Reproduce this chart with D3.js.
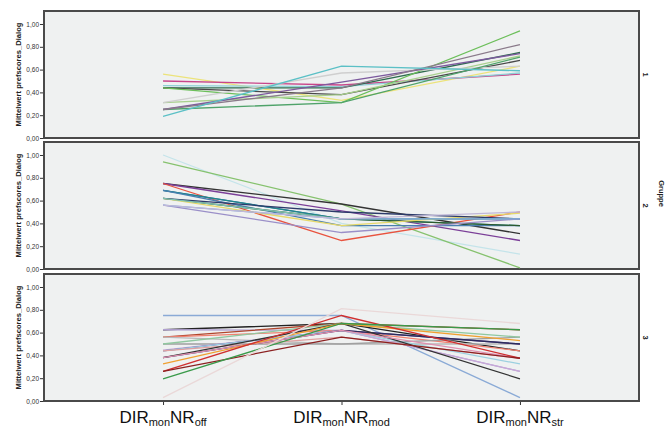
<!DOCTYPE html>
<html lang="de">
<head>
    <meta charset="UTF-8">
    <title>Mittelwert prefscores_Dialog nach Gruppe</title>
    <script src="https://d3js.org/d3.v7.min.js"></script>
    <style>
        body { margin: 0; background: #fff; }
        svg { font-family: Arial, "Liberation Sans", sans-serif; }
        .tick text { font-size: 6.5px; fill: #333; }
        .tick line { stroke: #333; }
        .panel { fill: #eff1f1; stroke: #4a4a4a; stroke-width: 2; }
        .series { fill: none; stroke-width: 1.3; }
    </style>
</head>
<body>
<svg id="chart" width="666" height="427"></svg>
<script>
    // categories on the x axis (subscripts of DIR_mon NR_x)
    const categories = ["off", "mod", "str"];
    const groups = ["1", "2", "3"];
    const yTicks = [0, 0.2, 0.4, 0.6, 0.8, 1.0];

    // Gruppe 1: one row per person, values at off / mod / str
    const group1 = [
        [0.56, 0.33, 0.63],
        [0.50, 0.465, 0.56],
        [0.46, 0.45, 0.57],
        [0.44, 0.44, 0.75],
        [0.44, 0.38, 0.68],
        [0.44, 0.31, 0.94],
        [0.31, 0.38, 0.72],
        [0.31, 0.57, 0.63],
        [0.25, 0.31, 0.71],
        [0.25, 0.49, 0.74],
        [0.25, 0.44, 0.82],
        [0.19, 0.63, 0.59]
    ];
    const group1Colors = ["#ece37a", "#c8468a", "#8fd0d6", "#2e6b4f", "#4a4a4a", "#6cbf5a",
        "#a8d08d", "#cfcfcf", "#4fa36a", "#7d5a9e", "#8a7a8a", "#5bc0c6"];

    // Gruppe 2
    const group2 = [
        [1.00, 0.40, 0.13],
        [0.94, 0.57, 0.01],
        [0.75, 0.57, 0.31],
        [0.75, 0.51, 0.25],
        [0.75, 0.25, 0.50],
        [0.69, 0.44, 0.44],
        [0.69, 0.44, 0.38],
        [0.69, 0.38, 0.38],
        [0.62, 0.44, 0.38],
        [0.62, 0.38, 0.49],
        [0.62, 0.50, 0.44],
        [0.62, 0.44, 0.44],
        [0.56, 0.32, 0.44],
        [0.56, 0.44, 0.44],
        [0.56, 0.44, 0.50]
    ];
    const group2Colors = ["#c4e4ea", "#86c26e", "#333333", "#7b3f98", "#e8533f", "#3a5fa8",
        "#1f8a8a", "#4a7fb0", "#2d5a2d", "#e6d86a", "#2c3a6a", "#7fc0b0",
        "#9a8fc8", "#7fa8d8", "#c0b8d8"];

    // Gruppe 3
    const group3 = [
        [0.75, 0.75, 0.03],
        [0.625, 0.68, 0.44],
        [0.625, 0.62, 0.26],
        [0.56, 0.68, 0.625],
        [0.56, 0.62, 0.44],
        [0.56, 0.50, 0.50],
        [0.50, 0.50, 0.56],
        [0.50, 0.68, 0.56],
        [0.445, 0.62, 0.26],
        [0.44, 0.62, 0.50],
        [0.44, 0.62, 0.325],
        [0.44, 0.56, 0.375],
        [0.38, 0.62, 0.50],
        [0.38, 0.68, 0.195],
        [0.38, 0.62, 0.375],
        [0.325, 0.68, 0.53],
        [0.26, 0.75, 0.375],
        [0.26, 0.56, 0.375],
        [0.195, 0.68, 0.625],
        [0.03, 0.81, 0.68]
    ];
    const group3Colors = ["#8aaad6", "#222222", "#b0a0d0", "#b0462c", "#f08070", "#b8b8b8",
        "#a0a0a0", "#90c8a0", "#c8a8d8", "#7050a0", "#9cd0e0", "#e0a0a0",
        "#2c2c5c", "#333333", "#e090b0", "#f0a030", "#d03030", "#8b2020",
        "#3a9a4a", "#ead8d8"];

    const panelData = [
        { rows: group1, colors: group1Colors },
        { rows: group2, colors: group2Colors },
        { rows: group3, colors: group3Colors }
    ];

    const svg = d3.select("#chart");
    const left = 44, right = 639;
    const panelTops = [11, 142, 274];
    const panelHeight = 127;

    const x = d3.scalePoint()
        .domain(categories)
        .range([left, right])
        .padding(0.667);

    panelData.forEach((p, i) => {
        const top = panelTops[i], bottom = top + panelHeight;
        const y = d3.scaleLinear()
            .domain([0, 1.114])
            .range([bottom, top]);

        svg.append("rect")
            .attr("class", "panel")
            .attr("x", left)
            .attr("y", top)
            .attr("width", right - left)
            .attr("height", panelHeight);

        const line = d3.line()
            .x((d, j) => x(categories[j]))
            .y(d => y(d));

        svg.append("g")
            .selectAll("path")
            .data(p.rows)
            .enter().append("path")
            .attr("class", "series")
            .attr("stroke", (d, j) => p.colors[j])
            .attr("d", line);

        // y axis
        svg.append("g")
            .attr("transform", "translate(" + (left - 1) + ",0)")
            .call(d3.axisLeft(y).tickValues(yTicks).tickSize(3).tickPadding(1)
                .tickFormat(d => d3.format(".2f")(d).replace(".", ",")))
            .call(g => g.select(".domain").remove());

        // y axis title
        svg.append("text")
            .attr("transform", "translate(21," + (top + panelHeight / 2) + ") rotate(-90)")
            .attr("text-anchor", "middle")
            .style("font-size", "7.6px")
            .style("font-weight", "bold")
            .style("fill", "#222")
            .text("Mittelwert prefscores_Dialog");

        // group label on the right
        svg.append("text")
            .attr("transform", "translate(643," + (top + panelHeight / 2) + ") rotate(90)")
            .attr("text-anchor", "middle")
            .style("font-size", "7.5px")
            .style("font-weight", "bold")
            .style("fill", "#222")
            .text(groups[i]);
    });

    svg.append("text")
        .attr("transform", "translate(659," + (panelTops[1] + panelHeight / 2 - 12) + ") rotate(90)")
        .attr("text-anchor", "middle")
        .style("font-size", "7.5px")
        .style("font-weight", "bold")
        .style("fill", "#222")
        .text("Gruppe");

    // x axis ticks and labels
    const xBottom = panelTops[2] + panelHeight;
    const xAxis = svg.append("g")
        .attr("transform", "translate(0," + (xBottom + 1) + ")")
        .call(d3.axisBottom(x).tickSize(3).tickFormat(""));
    xAxis.select(".domain").remove();

    const labels = svg.append("g").selectAll("text")
        .data(categories)
        .enter().append("text")
        .attr("x", d => x(d))
        .attr("y", 422.5)
        .attr("text-anchor", "middle")
        .style("font-size", "17px")
        .style("fill", "#111");
    labels.append("tspan").text("DIR");
    labels.append("tspan").attr("dy", 3.5).style("font-size", "11px").text("mon");
    labels.append("tspan").attr("dy", -3.5).text("NR");
    labels.append("tspan").attr("dy", 3.5).style("font-size", "11px").text(d => d);
</script>
</body>
</html>
